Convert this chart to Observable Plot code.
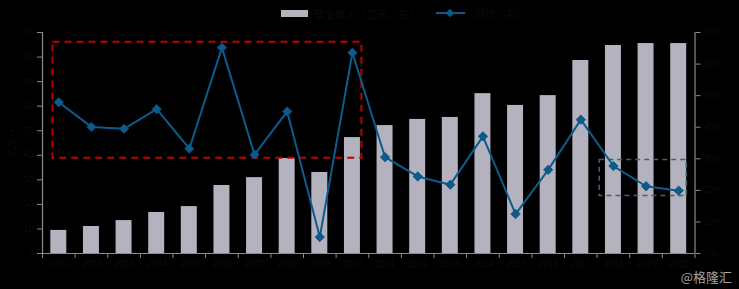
<!DOCTYPE html>
<html>
<head>
<meta charset="utf-8">
<script src="https://cdn.jsdelivr.net/npm/d3@7"></script>
<script src="https://cdn.jsdelivr.net/npm/@observablehq/plot@0.6"></script>
<style>
  html, body { margin: 0; padding: 0; background: #000; }
  #wrap { position: relative; width: 739px; height: 289px; background: #000; overflow: hidden;
          font-family: "Noto Sans CJK SC", "Noto Sans", sans-serif; }
  #legend { position: absolute; left: 281px; top: 4px; height: 18px; display: flex; align-items: center;
            font-size: 10.5px; color: #0c0c0c; }
  .sw-bar { width: 27px; height: 7px; background: #b4b2bf; margin-right: 6px; }
  .sw-line { position: relative; width: 29px; height: 2px; background: #0b5c8c; margin-left: 17px; margin-right: 10px; }
  .sw-line::after { content: ""; position: absolute; left: 11px; top: -2.5px; width: 6px; height: 6px;
                    background: #0b5c8c; transform: rotate(45deg); }
  #chart { position: absolute; left: 0; top: 25px; }
  #mark { position: absolute; right: 7px; bottom: 5px; font-size: 13px; line-height: 15px; color: #a3a3a3; }
</style>
</head>
<body>
<div id="wrap">
  <div id="legend">
    <div class="sw-bar"></div><span id="l1"></span>
    <div class="sw-line"></div><span id="l2"></span>
  </div>
  <div id="chart"></div>
  <div id="mark">@格隆汇</div>
</div>
<script>
// ---- data ----
const years = ["2001","2002","2003","2004","2005","2006","2007","2008","2009","2010",
               "2011","2012","2013","2014","2015","2016","2017","2018","2019","2020"];
const revenue = [9.4, 11.0, 13.4, 16.7, 19.1, 27.7, 30.9, 38.7, 33.0, 47.2,
                 52.1, 54.6, 55.4, 65.1, 60.3, 64.3, 78.6, 84.7, 85.5, 85.5];
const growth = [47.9, 40.1, 39.5, 45.7, 33.2, 65.2, 31.3, 45.0, 5.2, 63.6,
                30.5, 24.4, 21.8, 37.1, 12.5, 26.5, 42.4, 27.7, 21.3, 19.9];
const leftTicks = [0, 10, 20, 30, 40, 50, 60, 70, 80, 90];
const rightTicks = [0, 10, 20, 30, 40, 50, 60, 70];
const seriesNames = ["营业收入（亿元，左）", "同比（右）"];
const leftTitle = "亿元";
// annotation boxes (x in category index, y in right-axis %)
const redBox = [{x1: -0.18, x2: 9.29, y1: 30.2, y2: 66.9}];
const greenBox = [{x1: 16.58, x2: 19.25, y1: 18.2, y2: 29.6}];

document.getElementById("l1").textContent = seriesNames[0];
document.getElementById("l2").textContent = seriesNames[1];

const leftMax = 90, rightMax = 70, k = leftMax / rightMax;
const data = years.map((y, i) => ({i, year: y, rev: revenue[i], g: growth[i]}));
const idx = years.map((_, i) => i);
const bounds = d3.range(0, years.length + 1).map(i => i - 0.5);

const axisColor = "#8a8a8a";
const textColor = "#0c0c0c";
const barColor = "#b4b2bf";
const lineColor = "#0b5c8c";
const halfBar = 0.245;

const chart = Plot.plot({
  width: 739,
  height: 264,
  marginTop: 7,
  marginBottom: 36,
  marginLeft: 42,
  marginRight: 44.5,
  style: {background: "transparent", color: textColor, fontSize: "9px",
          fontFamily: '"Noto Sans CJK SC", "Noto Sans", sans-serif'},
  x: {type: "linear", domain: [-0.5, years.length - 0.5]},
  y: {domain: [0, leftMax]},
  marks: [
    Plot.rectY(data, {x1: d => d.i - halfBar, x2: d => d.i + halfBar, y: "rev", fill: barColor}),
    Plot.rect(redBox, {x1: "x1", x2: "x2", y1: d => d.y1 * k, y2: d => d.y2 * k,
                       fill: "none", stroke: "#c00000", strokeDasharray: "7,5", strokeWidth: 2}),
    Plot.rect(greenBox, {x1: "x1", x2: "x2", y1: d => d.y1 * k, y2: d => d.y2 * k,
                         fill: "none", stroke: "#3f6464", strokeDasharray: "5,4", strokeWidth: 1.6}),
    Plot.line(data, {x: "i", y: d => d.g * k, stroke: lineColor, strokeWidth: 2}),
    Plot.dot(data, {x: "i", y: d => d.g * k, symbol: "diamond2", r: 4.2, fill: lineColor, stroke: "#0a4f7a", strokeWidth: 0.8}),
    Plot.ruleY([0], {stroke: axisColor, strokeWidth: 1.2}),
    Plot.ruleX([-0.5], {stroke: axisColor, strokeWidth: 1.2}),
    Plot.ruleX([years.length - 0.5], {stroke: axisColor, strokeWidth: 1.2}),
    Plot.axisX(bounds, {tickSize: 5, tickFormat: () => "", stroke: axisColor, label: null}),
    Plot.axisX(idx, {tickSize: 0, tickPadding: 7, tickFormat: i => years[i], fill: textColor, label: null}),
    Plot.axisY(leftTicks, {anchor: "left", tickSize: 5, stroke: axisColor, fill: textColor,
                           label: leftTitle, labelAnchor: "center", labelOffset: 34}),
    Plot.axisY(rightTicks.map(v => v * k), {anchor: "right", tickSize: 5, stroke: axisColor, fill: textColor,
                           tickFormat: v => Math.round(v / k) + "%", label: null})
  ]
});
document.getElementById("chart").appendChild(chart);
</script>
</body>
</html>
